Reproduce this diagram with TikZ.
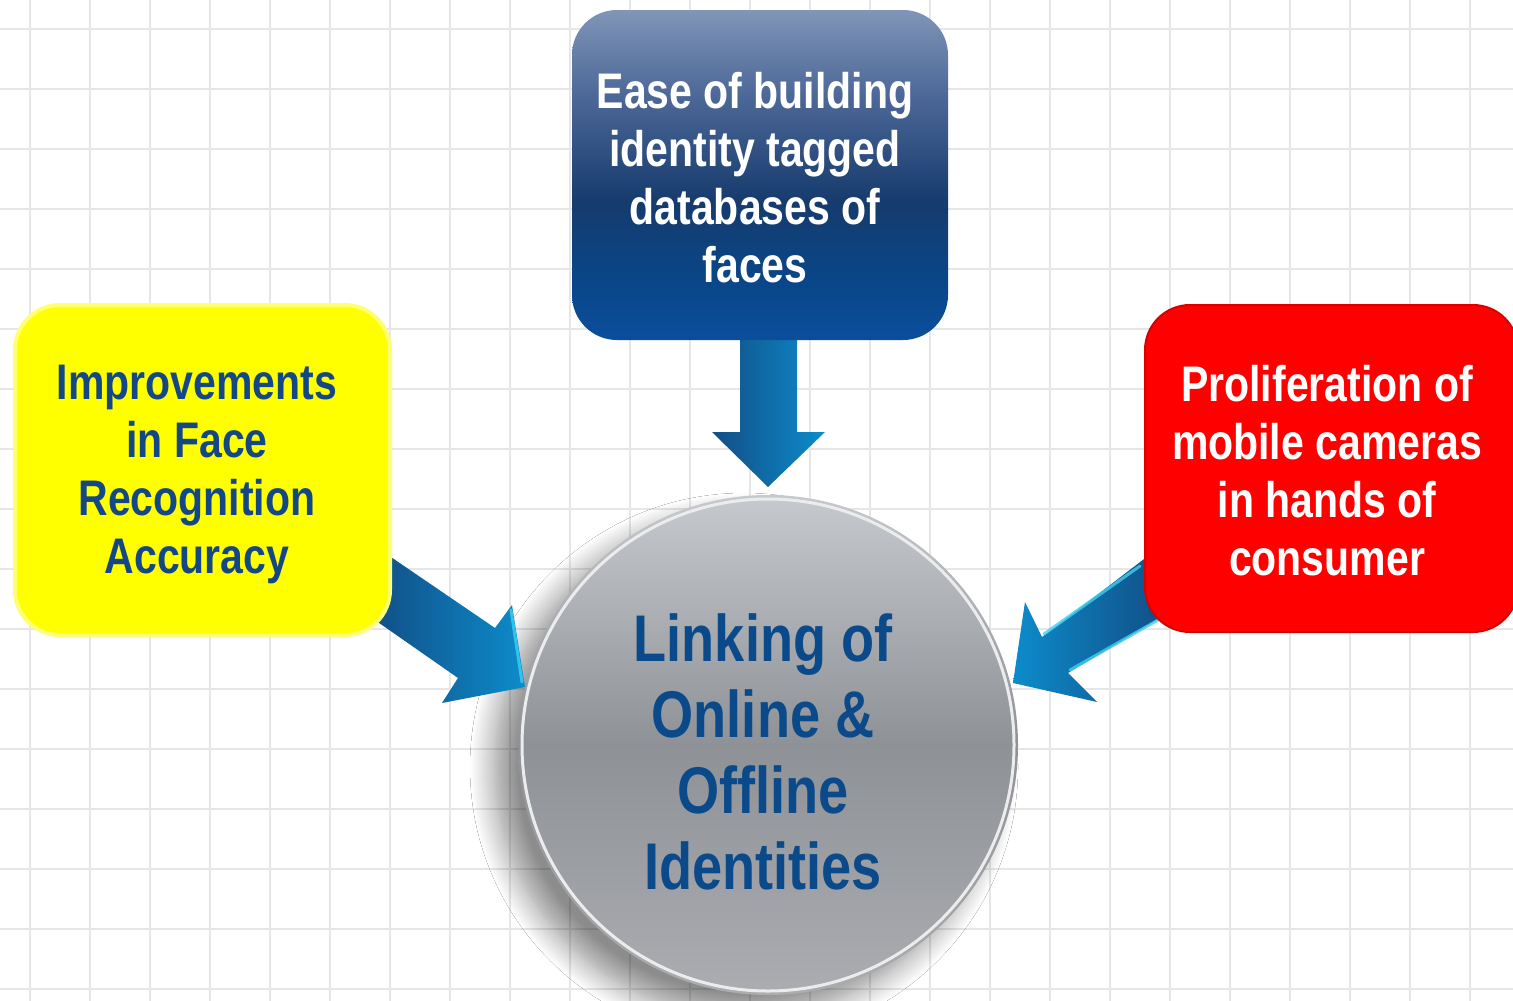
\documentclass[tikz,border=0pt]{standalone}
\usepackage{fontspec}
\newfontfamily\cond[FakeStretch=0.82]{Liberation Sans}
\usetikzlibrary{shadows.blur}
\definecolor{gridc}{HTML}{E6E6E6}
\definecolor{boxtop}{HTML}{8095B7}
\definecolor{boxup}{HTML}{4C6898}
\definecolor{boxmid}{HTML}{163B6D}
\definecolor{boxlow}{HTML}{0A4586}
\definecolor{boxbot}{HTML}{0A4E9C}
\definecolor{ytext}{HTML}{134785}
\definecolor{ctext}{HTML}{0A4A8A}
\definecolor{ctop}{HTML}{C6C9CD}
\definecolor{cmid}{HTML}{8E9196}
\definecolor{cbot}{HTML}{ABADB1}
\definecolor{adark}{HTML}{124E86}
\definecolor{alight}{HTML}{0C8CCB}
\definecolor{acyan}{HTML}{3FD0F0}
\definecolor{boxred}{HTML}{FF0000}
\definecolor{boxyel}{HTML}{FFFF00}
\pgfdeclareverticalshading{bluebox}{100bp}{%
  color(0bp)=(boxbot); color(25bp)=(boxbot); color(35bp)=(boxlow);
  color(46bp)=(boxmid); color(62bp)=(boxup); color(75bp)=(boxtop); color(100bp)=(boxtop)}
\tikzset{
  boxtext/.style={font=\cond\bfseries\fontsize{50}{58}\selectfont, align=center, inner sep=0pt},
  circtext/.style={font=\cond\bfseries\fontsize{66}{76}\selectfont, align=center, inner sep=0pt, text=ctext},
  blockarrow/.style={draw=none},
  hilite/.style={acyan, line width=3pt, line cap=round, opacity=0.8}
}
\begin{document}
\begin{tikzpicture}[x=1pt,y=-1pt]
\useasboundingbox (0,0) rectangle (1513,1001);
\fill[white] (0,0) rectangle (1513,1001);
% grid
\foreach \gx in {30,90,...,1510} {\draw[gridc, line width=2pt] (\gx,0) -- (\gx,1001);}
\foreach \gy in {29,89,...,1000} {\draw[gridc, line width=2pt] (0,\gy) -- (1513,\gy);}

% central circle
\path[blur shadow={shadow xshift=-24pt, shadow yshift=-22pt, shadow blur steps=16, shadow blur radius=24pt, shadow opacity=45}] (768,745) circle (250);
\shade[top color=ctop, bottom color=cbot, middle color=cmid] (768,745) circle (250);
\draw[white!85!gray, line width=3pt] (768,745) circle (246);
\node[circtext] (hub) at (763,752) {Linking of\\Online \&\\Offline\\Identities};

% top arrow
\shade[blockarrow, left color=adark, right color=alight]
  (740,335) -- (797,335) -- (797,432) -- (825,432) -- (768,487) -- (712,432) -- (740,432) -- cycle;
% left arrow
\shade[blockarrow, shading angle=124, left color=adark, right color=alight]
  (385,553) -- (495,628) -- (512,605) -- (525,687) -- (442,703) -- (458,678) -- (372,618) -- cycle;
\draw[hilite] (511,610) -- (522,682);
% right arrow
\shade[blockarrow, shading angle=-124, left color=alight, right color=adark]
  (1148,556) -- (1042,637) -- (1025,602) -- (1013,683) -- (1097,702) -- (1068,673) -- (1165,615) -- cycle;
\draw[hilite] (1140,566) -- (1044,634);
\draw[hilite] (1158,620) -- (1070,670);

% top box
\shade[rounded corners=45pt, shading=bluebox]
  (572,10) rectangle (948,340);
\node[boxtext, text=white] (db) at (755,178) {Ease of building\\identity tagged\\databases of\\faces};

% yellow box
\fill[rounded corners=45pt, boxyel, draw=boxyel!55!white, line width=4pt]
  (15,305) rectangle (390,635);
\node[boxtext, text=ytext] (acc) at (197,474) {Improvements\\in Face\\Recognition\\Accuracy};

% red box
\fill[rounded corners=45pt, boxred, draw=red!85!black, line width=2pt]
  (1145,305) rectangle (1518,632);
\node[boxtext, text=white] (cam) at (1327,471) {Proliferation of\\mobile cameras\\in hands of\\consumer};
\end{tikzpicture}
\end{document}
